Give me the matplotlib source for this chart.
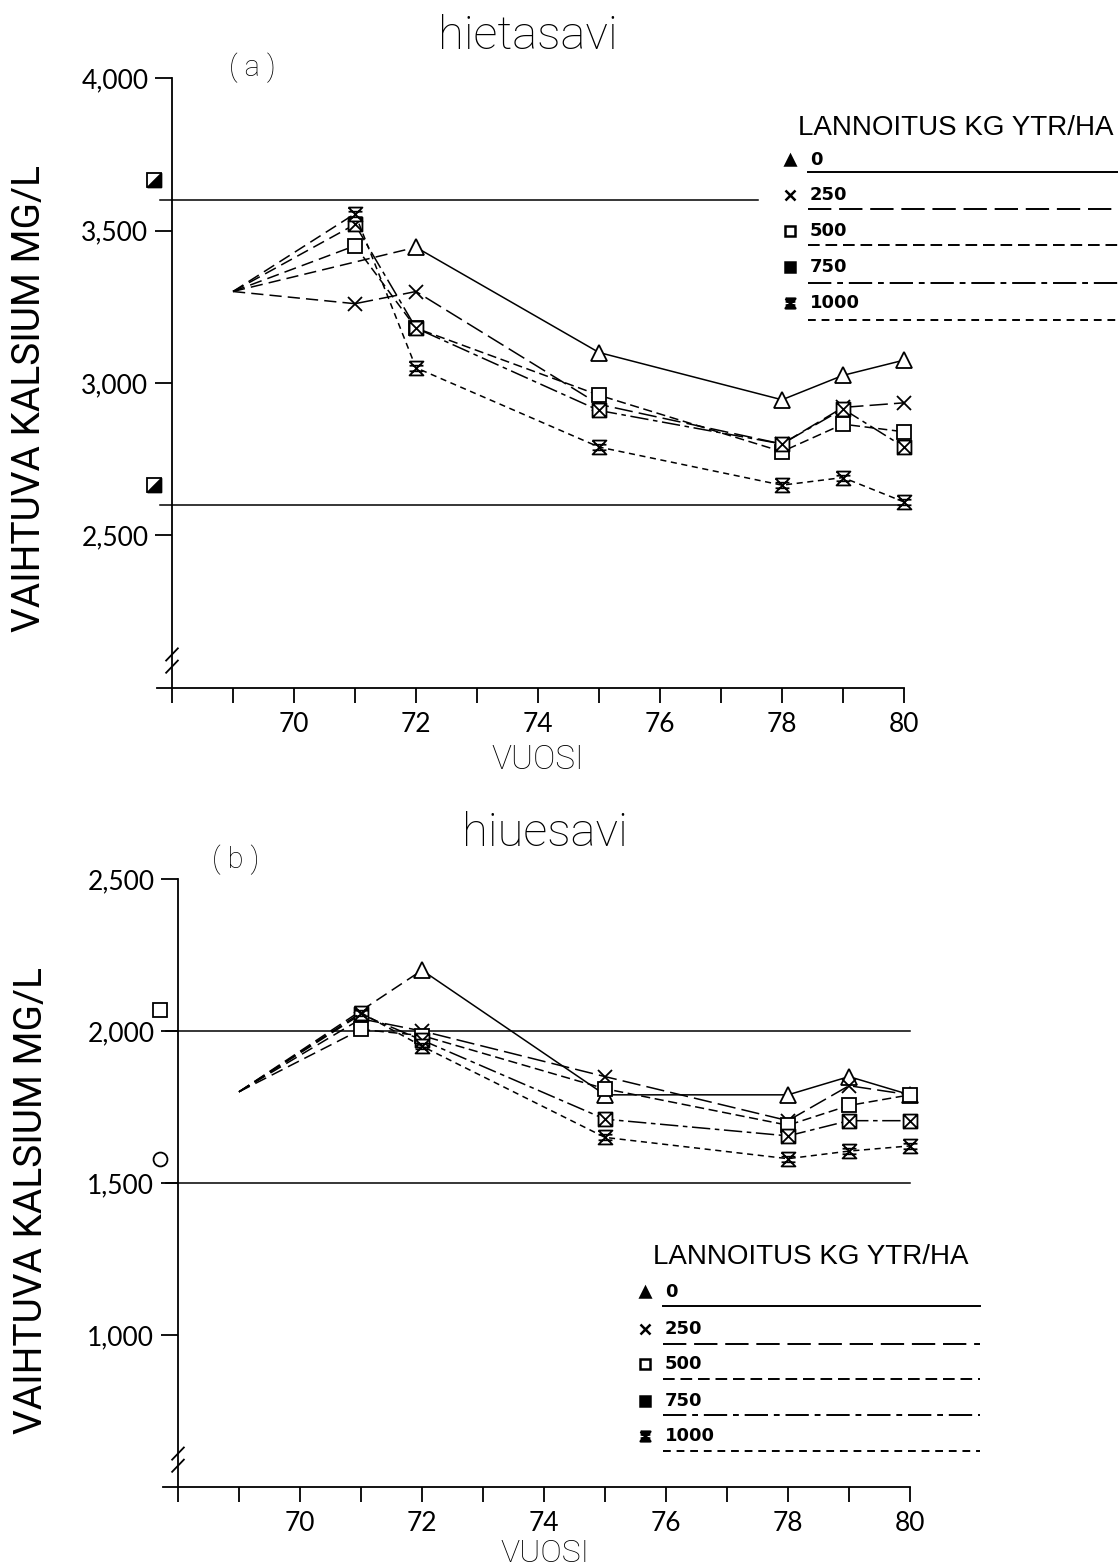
import matplotlib
matplotlib.use("Agg")
import matplotlib.pyplot as plt
from matplotlib.path import Path
from matplotlib.lines import Line2D
import numpy as np

nan = np.nan

# fertilizer levels, kg ytr/ha
levels = ["0", "250", "500", "750", "1000"]
years = [69, 71, 72, 75, 78, 79, 80]

# exchangeable calcium, hietasavi (a)
hieta_0 = [3300, nan, 3445, 3100, 2945, 3025, 3075]
hieta_250 = [3300, 3260, 3300, 2930, 2800, 2920, 2935]
hieta_500 = [3300, 3450, 3180, 2960, 2775, 2865, 2840]
hieta_750 = [3300, 3520, 3180, 2910, 2800, 2915, 2790]
hieta_1000 = [3300, 3555, 3050, 2790, 2665, 2690, 2610]

# exchangeable calcium, hiuesavi (b)
hiue_0 = [1800, nan, 2200, 1790, 1790, 1850, 1790]
hiue_250 = [1800, 2040, 2000, 1850, 1705, 1820, 1790]
hiue_500 = [1800, 2005, 1985, 1810, 1690, 1755, 1790]
hiue_750 = [1800, 2055, 1970, 1710, 1655, 1705, 1705]
hiue_1000 = [1800, 2060, 1950, 1650, 1580, 1605, 1622]

# reference levels drawn as horizontal lines
hieta_refs = [3600, 2600]
hiue_refs = [2000, 1500]
# single reference points at the left of the y axis
hieta_marks = [3665, 2665]
hiue_marks = [2070, 1580]

W, H = 1118, 1568
fig = plt.figure(figsize=(W / 100, H / 100), dpi=100)
FAM = ["Lato", "DejaVu Sans"]
thin = dict(family=["Roboto", "Lato", "DejaVu Sans"], fontweight="light")
label = dict(family=["Roboto", "Lato", "DejaVu Sans"], fontweight="normal")


def px(x, y):
    return x / W, 1 - y / H


M, L = Path.MOVETO, Path.LINETO
box_x = Path([(-1, -1), (1, -1), (1, 1), (-1, 1), (-1, -1), (1, 1), (-1, 1), (1, -1)],
             [M, L, L, L, L, L, M, L])
hourglass = Path([(-1, 1), (1, 1), (-1, -1), (1, -1), (-1, 1), (-1, 0.4), (1, 0.4), (-1, -0.4), (1, -0.4)],
                 [M, L, L, L, L, M, L, M, L])
half_box = Path([(-1, -1), (1, -1), (1, 1), (-1, -1)], [M, L, L, L])

markers = ["^", "x", "s", box_x, hourglass]
msizes = [11, 10, 10, 10, 10]
styles = ["-", (0, (12, 4)), (0, (6, 3)), (0, (12, 3, 3, 3)), (0, (4, 3))]
legend_markers = ["^", "x", "s", "s", hourglass]
legend_fill = ["k", "k", "none", "k", "k"]


def draw_panel(rect, ylo, yhi, yticks, series, refs, ref_ends, marks, mark_styles):
    ax = fig.add_axes(rect)
    ax.set_xlim(68, 80)
    ax.set_ylim(ylo, yhi)
    for s in ["top", "right", "bottom"]:
        ax.spines[s].set_visible(False)
    ax.spines["left"].set_linewidth(1.3)
    # x axis line runs a bit past the y axis
    ax.plot([67.75, 80], [ylo, ylo], color="k", lw=1.3, clip_on=False)
    ax.set_xticks(range(70, 81, 2))
    ax.set_xticks([68, 69, 71, 73, 75, 77, 79], minor=True)
    ax.set_yticks(yticks)
    ax.set_yticklabels([f"{t:,}" for t in yticks])
    ax.tick_params(axis="x", which="both", direction="out", length=11, width=1.3, pad=6, labelsize=19)
    ax.tick_params(axis="y", direction="out", length=12, width=1.3, pad=5, labelsize=19)
    for lab in ax.get_xticklabels() + ax.get_yticklabels():
        lab.set_family(FAM)

    for r, xe in zip(refs, ref_ends):
        ax.plot([67.8, xe], [r, r], color="k", lw=1.1, clip_on=False)
    for m, (mk, fc) in zip(marks, mark_styles):
        ax.plot([67.7], [m], marker=mk, ms=10, mfc=fc, mec="k", mew=1.3, clip_on=False)
        if mk is half_box:
            ax.plot([67.7], [m], marker="s", ms=10, mfc="none", mec="k", mew=1.3, clip_on=False)

    for vals, mk, ms, ls in zip(series, markers, msizes, styles):
        v = np.array(vals, dtype=float)
        x = np.array(years, dtype=float)
        ok = ~np.isnan(v)
        x, v = x[ok], v[ok]
        # first segment from the starting value is dashed
        ax.plot(x[:2], v[:2], color="k", lw=1.1, ls=(0, (8, 4)))
        ax.plot(x[1:], v[1:], color="k", lw=1.1, ls=ls)
        ax.plot(x[1:], v[1:], ls="none", marker=mk, ms=ms, mfc="white", mec="k",
                mew=1.3, clip_on=False)

    # axis break marks
    for dy in (0.035, 0.055):
        ax.plot([-0.008, 0.008], [dy - 0.01, dy + 0.01], transform=ax.transAxes,
                color="k", lw=1.3, clip_on=False)
    return ax


def draw_legend(x0, ytitle, rows, lines, xend, marker_x):
    fig.text(*px(x0, ytitle), "LANNOITUS KG YTR/HA", fontsize=20,
             family=["Liberation Sans Narrow", "Liberation Sans"], va="center", ha="left")
    for lev, mk, fc, ls, yr, yl in zip(levels, legend_markers, legend_fill, styles, rows, lines):
        fig.add_artist(Line2D([marker_x / W], [1 - yr / H], marker=mk, ms=7, mfc=fc,
                              mec="k", mew=1.8, ls="none"))
        fig.text(*px(x0 + 12, yr), lev, fontsize=13, fontweight="bold", va="center", ha="left")
        fig.add_artist(Line2D([(x0 + 10) / W, xend / W], [1 - yl / H] * 2, color="k",
                              lw=1.4, ls=ls))


# (a) hietasavi
draw_panel([172 / W, 1 - 688 / H, 732 / W, 610 / H], 2000, 4000, [2500, 3000, 3500, 4000],
           [hieta_0, hieta_250, hieta_500, hieta_750, hieta_1000],
           hieta_refs, [77.6, 80], hieta_marks, [(half_box, "k"), (half_box, "k")])
fig.text(*px(528, 36), "hietasavi", fontsize=34, ha="center", va="center", **thin)
fig.text(*px(252, 68), "( a )", fontsize=21, ha="center", va="center", **thin)
fig.text(*px(30, 398), "VAIHTUVA KALSIUM MG/L", fontsize=28, rotation=90,
         ha="center", va="center", **label)
fig.text(*px(538, 760), "VUOSI", fontsize=24, ha="center", va="center", **thin)
draw_legend(798, 128, [160, 195, 231, 267, 303], [172, 209, 245, 283, 320], 1118, 790)

# (b) hiuesavi
draw_panel([178 / W, 1 - 1487 / H, 732 / W, 608 / H], 500, 2500, [1000, 1500, 2000, 2500],
           [hiue_0, hiue_250, hiue_500, hiue_750, hiue_1000],
           hiue_refs, [80, 80], hiue_marks, [("s", "white"), ("o", "white")])
fig.text(*px(545, 833), "hiuesavi", fontsize=34, ha="center", va="center", **thin)
fig.text(*px(236, 860), "( b )", fontsize=21, ha="center", va="center", **thin)
fig.text(*px(32, 1200), "VAIHTUVA KALSIUM MG/L", fontsize=28, rotation=90,
         ha="center", va="center", **label)
fig.text(*px(545, 1553), "VUOSI", fontsize=23, ha="center", va="center", **thin)
draw_legend(653, 1257, [1292, 1329, 1364, 1401, 1436], [1306, 1344, 1379, 1415, 1451], 980, 645)

fig.savefig("out.png", dpi=100)
